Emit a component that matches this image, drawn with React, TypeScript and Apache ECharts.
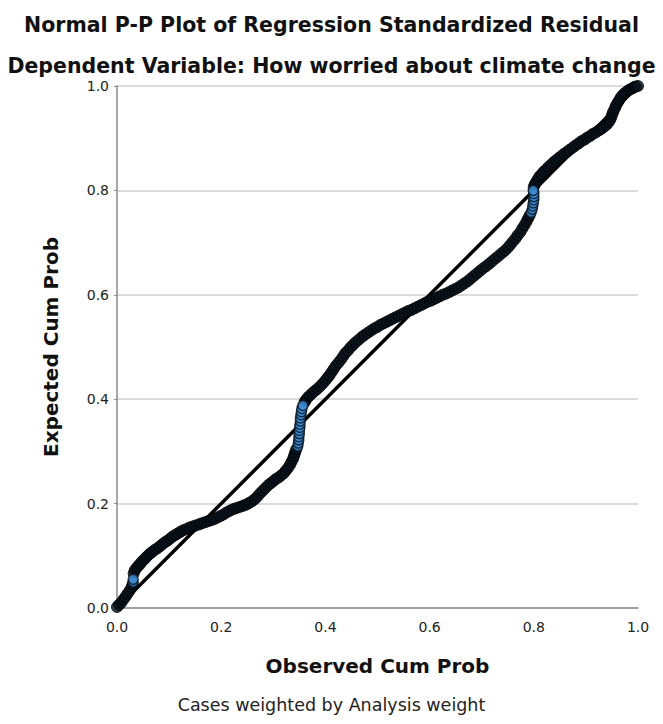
import React, { useEffect, useRef } from "react";
import * as echarts from "echarts";

const titleLines = [
  "Normal P-P Plot of Regression Standardized Residual",
  "Dependent Variable: How worried about climate change",
];
const footnote = "Cases weighted by Analysis weight";
const xAxisName = "Observed Cum Prob";
const yAxisName = "Expected Cum Prob";

// Observed vs expected cumulative probability
const residualPoints: [number, number][] = [
  [0.0, 0.002], [0.004, 0.006], [0.008, 0.01], [0.012, 0.016], [0.016, 0.021],
  [0.02, 0.027], [0.024, 0.033], [0.028, 0.04], [0.03, 0.046],
  [0.032, 0.066], [0.034, 0.072], [0.037, 0.076], [0.04, 0.08], [0.044, 0.084],
  [0.047, 0.088], [0.051, 0.092], [0.055, 0.096], [0.059, 0.1],
  [0.063, 0.104], [0.067, 0.107], [0.072, 0.111], [0.077, 0.114], [0.082, 0.118],
  [0.087, 0.122], [0.092, 0.126], [0.097, 0.129], [0.102, 0.133], [0.107, 0.137],
  [0.112, 0.14], [0.117, 0.143], [0.122, 0.146], [0.127, 0.149], [0.133, 0.151],
  [0.139, 0.154], [0.145, 0.156], [0.151, 0.158], [0.157, 0.16], [0.162, 0.162],
  [0.168, 0.164], [0.174, 0.166], [0.18, 0.168], [0.186, 0.17], [0.192, 0.173],
  [0.198, 0.176], [0.204, 0.179], [0.21, 0.183], [0.216, 0.186], [0.222, 0.189],
  [0.228, 0.191], [0.234, 0.193], [0.24, 0.195], [0.245, 0.197], [0.25, 0.199],
  [0.255, 0.202], [0.26, 0.205], [0.265, 0.209], [0.27, 0.214], [0.275, 0.22],
  [0.28, 0.225], [0.285, 0.23], [0.29, 0.235], [0.295, 0.239], [0.3, 0.243],
  [0.305, 0.247], [0.31, 0.25], [0.315, 0.254], [0.32, 0.258], [0.324, 0.263],
  [0.328, 0.268], [0.332, 0.274], [0.335, 0.28], [0.338, 0.286], [0.34, 0.292],
  [0.342, 0.298], [0.344, 0.304],
  [0.36, 0.394], [0.362, 0.398], [0.366, 0.403], [0.37, 0.407], [0.375, 0.412],
  [0.38, 0.416], [0.385, 0.42], [0.39, 0.425], [0.395, 0.43], [0.4, 0.436],
  [0.404, 0.441], [0.408, 0.446], [0.412, 0.452], [0.416, 0.458], [0.42, 0.464],
  [0.425, 0.47], [0.43, 0.476], [0.434, 0.482], [0.438, 0.488], [0.443, 0.493],
  [0.448, 0.499], [0.453, 0.504], [0.458, 0.509], [0.464, 0.514], [0.47, 0.519],
  [0.475, 0.523], [0.481, 0.527], [0.487, 0.531], [0.493, 0.535], [0.499, 0.538],
  [0.505, 0.542], [0.511, 0.545], [0.517, 0.548], [0.523, 0.551], [0.529, 0.554],
  [0.535, 0.557], [0.541, 0.56], [0.547, 0.563], [0.553, 0.566], [0.559, 0.569],
  [0.565, 0.571], [0.571, 0.574], [0.577, 0.577], [0.583, 0.58], [0.589, 0.583],
  [0.595, 0.586], [0.601, 0.588], [0.607, 0.591], [0.613, 0.594], [0.619, 0.597],
  [0.625, 0.6], [0.631, 0.602], [0.637, 0.605], [0.643, 0.608], [0.649, 0.611],
  [0.655, 0.614], [0.661, 0.618], [0.667, 0.622], [0.673, 0.626], [0.679, 0.631],
  [0.685, 0.636], [0.691, 0.641], [0.697, 0.646], [0.703, 0.651], [0.709, 0.655],
  [0.715, 0.66], [0.721, 0.665], [0.727, 0.67], [0.733, 0.675], [0.739, 0.68],
  [0.745, 0.685], [0.75, 0.69], [0.755, 0.696], [0.76, 0.702], [0.765, 0.708],
  [0.769, 0.714], [0.774, 0.72], [0.778, 0.727], [0.782, 0.733], [0.786, 0.74],
  [0.789, 0.746], [0.792, 0.752],
  [0.8, 0.807], [0.802, 0.812], [0.805, 0.817], [0.808, 0.822], [0.811, 0.827],
  [0.815, 0.831], [0.819, 0.836], [0.824, 0.84], [0.828, 0.845], [0.833, 0.849],
  [0.838, 0.854], [0.843, 0.858], [0.848, 0.862], [0.853, 0.866], [0.858, 0.87],
  [0.864, 0.874], [0.869, 0.878], [0.875, 0.882], [0.88, 0.886], [0.886, 0.89],
  [0.891, 0.894], [0.897, 0.897], [0.902, 0.901], [0.908, 0.904], [0.913, 0.908],
  [0.919, 0.911], [0.925, 0.915], [0.93, 0.918], [0.935, 0.922], [0.94, 0.926],
  [0.944, 0.931], [0.947, 0.936], [0.949, 0.941], [0.951, 0.947], [0.953, 0.952],
  [0.956, 0.958], [0.958, 0.963], [0.961, 0.968], [0.964, 0.973], [0.967, 0.978],
  [0.97, 0.982], [0.974, 0.986], [0.978, 0.989], [0.982, 0.992], [0.986, 0.994],
  [0.99, 0.996], [0.993, 0.998], [0.996, 0.999], [1.0, 1.0],
];

// Stacked runs where the marker fill stays visible
const highlightedPoints: [number, number][] = [
  [0.031, 0.05], [0.031, 0.055],
  [0.347, 0.31], [0.348, 0.316], [0.349, 0.322], [0.349, 0.328], [0.35, 0.334],
  [0.35, 0.34], [0.351, 0.346], [0.351, 0.352], [0.352, 0.358], [0.352, 0.364],
  [0.353, 0.37], [0.354, 0.376], [0.355, 0.382], [0.357, 0.388],
  [0.795, 0.758], [0.797, 0.764], [0.798, 0.77], [0.799, 0.776], [0.8, 0.782],
  [0.8, 0.788], [0.8, 0.794], [0.799, 0.8],
];

const referenceLine: [number, number][] = [
  [0, 0],
  [1, 1],
];

export default function App() {
  const ref = useRef<HTMLDivElement>(null);
  useEffect(() => {
    if (!ref.current) return;
    const chart = echarts.init(ref.current, undefined, { renderer: "svg" });
    const font = "DejaVu Sans";
    chart.setOption({
      animation: false,
      backgroundColor: "#ffffff",
      title: [
        {
          text: titleLines[0],
          left: "center",
          top: 9,
          textStyle: { fontFamily: font, fontSize: 20.5, fontWeight: "bold", color: "#111" },
        },
        {
          text: titleLines[1],
          left: "center",
          top: 50,
          textStyle: { fontFamily: font, fontSize: 20.5, fontWeight: "bold", color: "#111" },
        },
        {
          text: footnote,
          left: "center",
          top: 691,
          textStyle: { fontFamily: font, fontSize: 17.5, fontWeight: "normal", color: "#222" },
        },
      ],
      grid: { left: 117, right: 25, top: 86, bottom: 116, containLabel: false },
      xAxis: {
        type: "value",
        min: 0,
        max: 1,
        interval: 0.2,
        name: xAxisName,
        nameLocation: "middle",
        nameGap: 48,
        nameTextStyle: { fontFamily: font, fontSize: 20, fontWeight: "bold", color: "#111" },
        axisLine: { show: true, lineStyle: { color: "#8a8a8a", width: 1.5 } },
        axisTick: { show: false },
        splitLine: { show: false },
        axisLabel: {
          fontFamily: font,
          fontSize: 14,
          color: "#222",
          margin: 12,
          formatter: (v: number) => v.toFixed(1),
        },
      },
      yAxis: {
        type: "value",
        min: 0,
        max: 1,
        interval: 0.2,
        name: yAxisName,
        nameLocation: "middle",
        nameGap: 56,
        nameRotate: 90,
        nameTextStyle: { fontFamily: font, fontSize: 20, fontWeight: "bold", color: "#111" },
        axisLine: { show: true, lineStyle: { color: "#8a8a8a", width: 1.5 } },
        axisTick: { show: true, length: 3, lineStyle: { color: "#8a8a8a" } },
        splitLine: { show: true, lineStyle: { color: "#cfcfcf", width: 1.5 } },
        axisLabel: {
          fontFamily: font,
          fontSize: 14,
          color: "#222",
          margin: 8,
          formatter: (v: number) => v.toFixed(1),
        },
      },
      series: [
        {
          type: "line",
          data: referenceLine,
          symbol: "none",
          lineStyle: { color: "#000", width: 3.5 },
          silent: true,
          z: 2,
        },
        {
          type: "scatter",
          data: residualPoints,
          symbolSize: 11,
          itemStyle: { color: "#07111c", borderColor: "#000", borderWidth: 1 },
          z: 3,
        },
        {
          type: "scatter",
          data: highlightedPoints,
          symbolSize: 10,
          itemStyle: { color: "#3e8fd8", borderColor: "#07111c", borderWidth: 1.5 },
          z: 4,
        },
      ],
    });
    return () => chart.dispose();
  }, []);
  return <div ref={ref} style={{ width: 663, height: 724, margin: -8 }} />;
}
